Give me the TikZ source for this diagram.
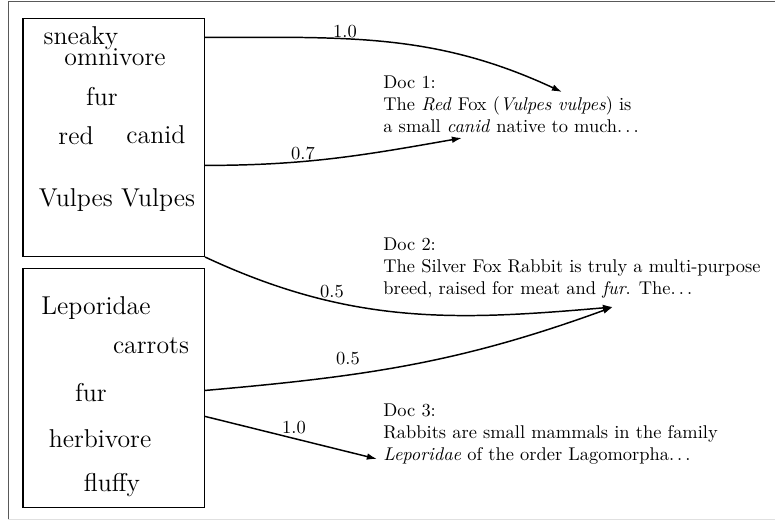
\documentclass[tikz,border=0pt]{standalone}
\usetikzlibrary{calc, arrows.meta, positioning}

\begin{document}
\begin{tikzpicture}[
        parola/.style={font=\fontsize{14}{17}\selectfont, anchor=base, inner sep=0pt},
        scatola/.style={draw, semithick, rectangle, minimum width=3.46cm, inner sep=0pt},
        documento/.style={anchor=base west, align=left, inner sep=0pt},
        peso/.style={inner sep=0pt},
        freccia/.style={-{Latex[length=5.5pt, width=3.6pt]}, thick}
    ]

        % ==========================================
        % CORNICE
        % ==========================================
        \useasboundingbox (0,0) rectangle (14.777,9.934);
        \draw[black!65] (14.777,9.905) -- (0.153,9.905) -- (0.153,0.038);
        \draw[black!12] (0.153,0.038) -- (14.777,0.038);

        % ==========================================
        % SINISTRA: le due query (volpe e coniglio)
        % ==========================================
        \node[scatola, minimum height=4.529cm] (volpe) at (2.169,7.308) {};
        \node[scatola, minimum height=4.557cm] (coniglio) at (2.169,2.536) {};

        % parole della volpe
        \node[parola] (sneaky)   at (1.544,9.076) {sneaky};
        \node[parola] (omnivore) at (2.193,8.676) {omnivore};
        \node[parola] (furV)     at (1.945,7.913) {fur};
        \node[parola] (red)      at (1.449,7.188) {red};
        \node[parola] (canid)    at (2.974,7.207) {canid};
        \node[parola] (vulpes)   at (2.231,5.987) {Vulpes Vulpes};

        % parole del coniglio
        \node[parola] (leporidae) at (1.830,3.928) {Leporidae};
        \node[parola] (carrots)   at (2.879,3.203) {carrots};
        \node[parola] (furL)      at (1.735,2.269) {fur};
        \node[parola] (herbivore) at (1.907,1.392) {herbivore};
        \node[parola] (fluffy)    at (2.135,0.553) {fluffy};

        % ==========================================
        % DESTRA: i documenti (ancorati all'ultima riga)
        % ==========================================
        \node[documento] (doc1) at (7.303,7.398) {Doc 1:\\The \emph{Red} Fox (\emph{Vulpes vulpes}) is\\a small \emph{canid} native to much$\ldots$};
        \node[documento] (doc2) at (7.303,4.309) {Doc 2:\\The Silver Fox Rabbit is truly a multi-purpose\\breed, raised for meat and \emph{fur}. The$\ldots$};
        \node[documento] (doc3) at (7.303,1.144) {Doc 3:\\Rabbits are small mammals in the family\\\emph{Leporidae} of the order Lagomorpha$\ldots$};

        % ==========================================
        % CENTRO: frecce con i pesi
        % ==========================================
        % punti di partenza sul bordo delle scatole
        \coordinate (p1) at ([yshift=-0.362cm]volpe.north east);
        \coordinate (p2) at ([yshift=-2.803cm]volpe.north east);
        \coordinate (p4) at ([yshift=-2.336cm]coniglio.north east);
        \coordinate (p5) at ([yshift=-2.831cm]coniglio.north east);

        % punte delle frecce sotto le parole dei documenti
        \coordinate (t1) at (10.716,8.180);
        \coordinate (t2) at (8.809,7.303);
        \coordinate (t3) at (11.688,4.080);
        \coordinate (t4) at (7.188,1.182);

        \draw[freccia] (p1) to[out=0, in=155] (t1);
        \draw[freccia] (p2) to[out=0, in=190] (t2);
        \draw[freccia] (volpe.south east) to[out=-25, in=185] (t3);
        \draw[freccia] (p4) to[out=5, in=200] (t3);
        \draw[freccia] (p5) -- (t4);

        \node[peso] (w1) at (6.578,9.324) {1.0};
        \node[peso] (w2) at (5.777,6.998) {0.7};
        \node[peso] (w3) at (6.330,4.366) {0.5};
        \node[peso] (w4) at (6.635,3.089) {0.5};
        \node[peso] (w5) at (5.606,1.773) {1.0};

    \end{tikzpicture}
\end{document}
